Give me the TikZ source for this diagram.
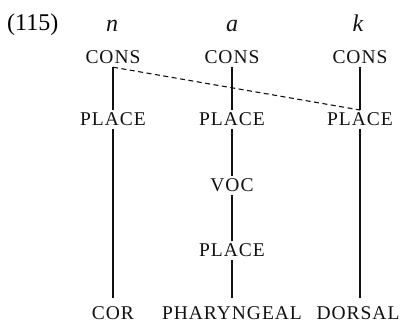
\documentclass[tikz,border=0pt]{standalone}
\usepackage{fontspec}
\setmainfont{Liberation Serif}
\newfontfamily\featfont[LetterSpace=5]{Liberation Serif}
\definecolor{TreeInk}{HTML}{111111}

\begin{document}
\begin{tikzpicture}[x=1pt,y=1pt,
    feat/.style={anchor=base,font=\featfont\fontsize{19.5}{19.5}\selectfont,
      inner sep=3pt,text height=12.8pt,text depth=0pt,color=TreeInk},
    seg/.style={anchor=base,font=\itshape\fontsize{24}{24}\selectfont,
      inner sep=0pt,color=TreeInk},
    assoc/.style={TreeInk,line width=1.1pt},
    lower/.style={assoc,shorten >=6pt}]
      \useasboundingbox (0,0) rectangle (402,324);
      \node[anchor=base west,font=\fontsize{24}{24}\selectfont,inner sep=0pt]
        (ex) at (7,293) {(115)};
      % segments
      \node[seg] (sn) at (112,292) {n};
      \node[seg] (sa) at (232,292) {a};
      \node[seg] (sk) at (358,292) {k};
      % tiers
      \node[feat] (cn) at (113,260) {CONS};
      \node[feat] (ca) at (232,260) {CONS};
      \node[feat] (ck) at (360,260) {CONS};
      \node[feat] (pn) at (113,198) {PLACE};
      \node[feat] (pa) at (232,198) {PLACE};
      \node[feat] (pk) at (360,198) {PLACE};
      \node[feat] (voc) at (232,132) {VOC};
      \node[feat] (pa2) at (232,67) {PLACE};
      \node[feat] (cor) at (113,4) {COR};
      \node[feat] (phar) at (232,4) {PHARYNGEAL};
      \node[feat] (dors) at (358,4) {DORSAL};
      % association lines
      \draw[assoc] (cn.south) -- (pn.north);
      \draw[assoc] (ca.south) -- (pa.north);
      \draw[assoc] (ck.south) -- (pk.north);
      \draw[assoc] (pa.south) -- (voc.north);
      \draw[assoc] (voc.south) -- (pa2.north);
      \draw[lower] (pn.south) -- (cor.north);
      \draw[lower] (pa2.south) -- (phar.north);
      \draw[lower] (pk.south) -- (pk.south |- dors.north);
      \draw[assoc,dash pattern=on 5pt off 3.5pt] (cn.south) -- (pk.north);
    \end{tikzpicture}
\end{document}
